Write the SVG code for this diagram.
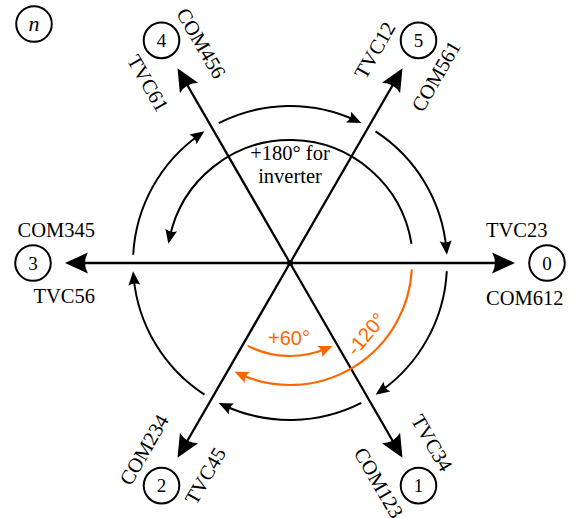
<svg xmlns="http://www.w3.org/2000/svg" width="577" height="518" viewBox="0 0 577 518">
<style>
.ax{stroke:#000;stroke-width:2.3;fill:none;marker-end:url(#big)}
.arc{stroke:#000;stroke-width:2;fill:none;marker-end:url(#small)}
.oarc{stroke:#f60;stroke-width:2.2;fill:none;marker-end:url(#osmall)}
.nc{fill:#fff;stroke:#000;stroke-width:2}
.num{font-family:"Liberation Serif","Times New Roman",serif;font-size:19px;text-anchor:middle;dominant-baseline:central}
.lab{font-family:"Liberation Serif","Times New Roman",serif;font-size:20.5px;dominant-baseline:central}
.s{text-anchor:start}
.e{text-anchor:end}
.ot{font-family:"Liberation Sans",Arial,sans-serif;font-size:20px;fill:#f60}
.ct{font-family:"Liberation Serif","Times New Roman",serif;font-size:20.5px;text-anchor:middle}
</style>
<defs>
<marker id="big" markerUnits="userSpaceOnUse" orient="auto" overflow="visible" refX="0" refY="0" markerWidth="1" markerHeight="1">
<path d="M10,0 L-13,-10.5 Q-7,0 -13,10.5 Z" fill="#000"/>
</marker>
<marker id="small" markerUnits="userSpaceOnUse" orient="auto" overflow="visible" refX="0" refY="0" markerWidth="1" markerHeight="1">
<path d="M6,0 L-8,-6 Q-4.5,0 -8,6 Z" fill="#000"/>
</marker>
<marker id="osmall" markerUnits="userSpaceOnUse" orient="auto" overflow="visible" refX="0" refY="0" markerWidth="1" markerHeight="1">
<path d="M6,0 L-8,-6 Q-4.5,0 -8,6 Z" fill="#f60"/>
</marker>
</defs>
<rect width="577" height="518" fill="#fff"/>

<g id="connectors">
<line class="ax" x1="290" y1="263" x2="505" y2="263"/>
<line class="ax" x1="290" y1="263" x2="397.5" y2="76.8"/>
<line class="ax" x1="290" y1="263" x2="182.5" y2="76.8"/>
<line class="ax" x1="290" y1="263" x2="75" y2="263"/>
<line class="ax" x1="290" y1="263" x2="182.5" y2="449.2"/>
<line class="ax" x1="290" y1="263" x2="397.5" y2="449.2"/>
<circle cx="290" cy="263" r="3" fill="#000"/>
<path class="arc" d="M218.72,123.11 A157,157 0 0 1 355.86,120.48"/>
<path class="arc" d="M375.50,131.32 A157,157 0 0 1 446.36,248.77"/>
<path class="arc" d="M446.78,271.21 A157,157 0 0 1 380.49,391.29"/>
<path class="arc" d="M361.28,402.89 A157,157 0 0 1 224.14,405.52"/>
<path class="arc" d="M204.50,394.68 A157,157 0 0 1 133.64,277.23"/>
<path class="arc" d="M133.22,254.79 A157,157 0 0 1 199.51,134.71"/>
<path class="arc" d="M411.49,243.76 A123,123 0 0 0 169.60,237.85"/>
<path class="oarc" d="M411.83,269.38 A122,122 0 0 1 239.99,374.28"/>
<path class="oarc" d="M247.78,345.86 A93,93 0 0 0 327.08,348.29"/>
</g>

<text class="ct" x="290" y="159.5">+180° for</text>
<text class="ct" x="290" y="183">inverter</text>
<text class="ot" x="289" y="345" text-anchor="middle">+60°</text>
<text class="ot" transform="translate(366,334) rotate(-50)" text-anchor="middle" dominant-baseline="central">-120°</text>

<g id="node-n">
<circle class="nc" cx="34" cy="24" r="17.8"/>
<text x="34" y="23" font-family="Liberation Serif,serif" font-style="italic" font-size="22" text-anchor="middle" dominant-baseline="central">n</text>
</g>
<g id="node-0">
<circle class="nc" cx="547" cy="263" r="17.8"/>
<text class="num" x="547" y="263">0</text>
<text class="lab s" x="486" y="230">TVC23</text>
<text class="lab s" x="486" y="298">COM612</text>
</g>
<g id="node-1">
<circle class="nc" cx="418.5" cy="485.6" r="17.8"/>
<text class="num" x="418.5" y="485.6">1</text>
<text class="lab s" transform="translate(416.58,416.24) rotate(60)">TVC34</text>
<text class="lab s" transform="translate(359.42,449.24) rotate(60)">COM123</text>
</g>
<g id="node-2">
<circle class="nc" cx="161.5" cy="485.6" r="17.8"/>
<text class="num" x="161.5" y="485.6">2</text>
<text class="lab e" transform="translate(163.42,416.24) rotate(-60)">COM234</text>
<text class="lab e" transform="translate(220.58,449.24) rotate(-60)">TVC45</text>
</g>
<g id="node-3">
<circle class="nc" cx="33" cy="263" r="17.8"/>
<text class="num" x="33" y="263">3</text>
<text class="lab e" x="95" y="230">COM345</text>
<text class="lab e" x="95" y="296">TVC56</text>
</g>
<g id="node-4">
<circle class="nc" cx="161.5" cy="40.4" r="17.8"/>
<text class="num" x="161.5" y="40.4">4</text>
<text class="lab e" transform="translate(220.58,76.76) rotate(60)">COM456</text>
<text class="lab e" transform="translate(163.42,109.76) rotate(60)">TVC61</text>
</g>
<g id="node-5">
<circle class="nc" cx="418.5" cy="40.4" r="17.8"/>
<text class="num" x="418.5" y="40.4">5</text>
<text class="lab s" transform="translate(359.42,76.76) rotate(-60)">TVC12</text>
<text class="lab s" transform="translate(416.58,109.76) rotate(-60)">COM561</text>
</g>
</svg>
